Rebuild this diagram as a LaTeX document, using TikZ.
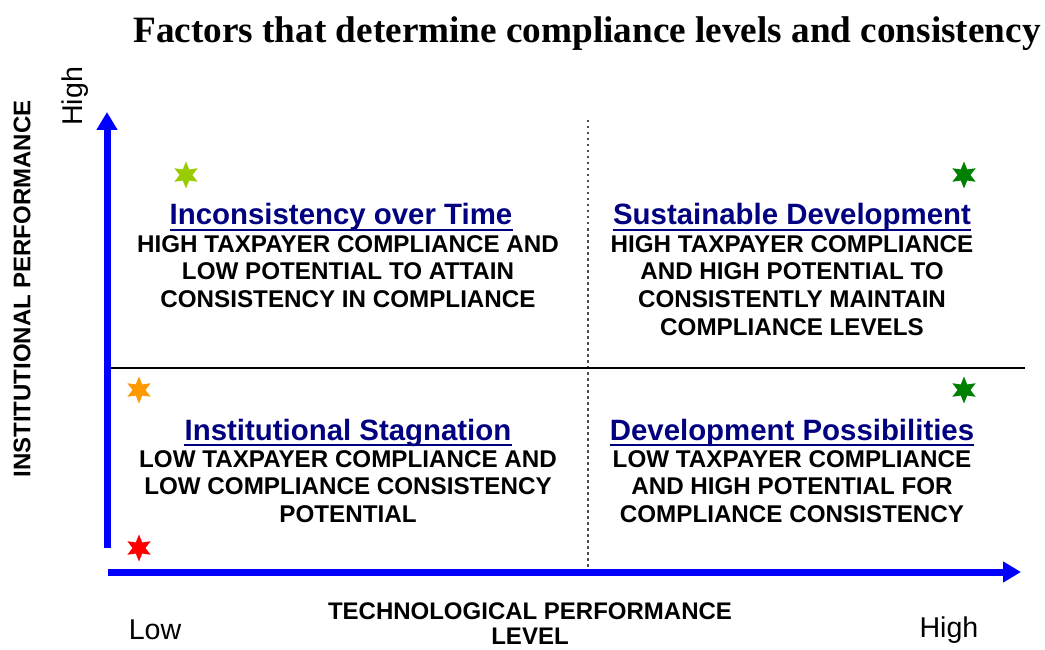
\documentclass[tikz,border=0pt]{standalone}
\usepackage{fontspec}
\setmainfont{Liberation Serif}
\setsansfont{Liberation Sans}
\usetikzlibrary{arrows.meta,shapes.geometric}
\definecolor{axisblue}{RGB}{0,0,255}
\definecolor{headnavy}{RGB}{0,0,128}
\definecolor{limegreen}{RGB}{153,204,0}
\definecolor{darkgreen}{RGB}{0,128,0}
\definecolor{starorange}{RGB}{255,153,0}
\definecolor{starred}{RGB}{255,0,0}
\tikzset{
  axis/.style={line width=7pt, axisblue, -{Triangle[length=18pt,width=20pt]}},
  sixstar/.style={star, star points=6, star point ratio=2.1, minimum size=27pt, inner sep=0pt, draw=none, fill=#1},
  heading/.style={font=\sffamily\bfseries\fontsize{29.4}{29.4}\selectfont, text=headnavy, inner sep=0pt, anchor=base},
  bodytext/.style={font=\sffamily\bfseries\fontsize{24.2}{27.7}\selectfont, align=center, anchor=center, inner sep=0pt},
  axislabel/.style={font=\sffamily\bfseries\fontsize{24}{25}\selectfont, align=center, inner sep=0pt},
  endlabel/.style={font=\sffamily\fontsize{28.6}{28.6}\selectfont, inner sep=0pt},
}
\newcommand{\headline}[1]{\draw[headnavy, line width=2pt] ([yshift=-5pt]#1.base west) -- ([yshift=-5pt]#1.base east);}
\begin{document}
\begin{tikzpicture}[x=1pt, y=-1pt]
\useasboundingbox (0,0) rectangle (1045,650);

% title
\node[font=\rmfamily\bfseries\fontsize{37.2}{37.2}\selectfont, inner sep=0pt, anchor=base] (title) at (587,43) {Factors that determine compliance levels and consistency};

% quadrant dividers
\coordinate (vtop) at (588,120);
\coordinate (vbot) at (588,572);
\coordinate (hleft) at (110,368);
\coordinate (hright) at (1025,368);
\draw[line width=2pt, dash pattern=on 2.5pt off 3.5pt, black!70] (vtop) -- (vbot);
\draw[line width=1.5pt] (hleft) -- (hright);

% axes
\coordinate (yfoot) at (107,548);
\coordinate (ytip) at (107,112);
\coordinate (xfoot) at (108,572);
\coordinate (xtip) at (1021,572);
\draw[axis] (yfoot) -- (ytip);
\draw[axis] (xfoot) -- (xtip);

% stars
\node[sixstar=limegreen] (s1) at (186,175) {};
\node[sixstar=darkgreen] (s2) at (964,175) {};
\node[sixstar=starorange] (s3) at (139,390) {};
\node[sixstar=darkgreen] (s4) at (964,390) {};
\node[sixstar=starred] (s5) at (139,548) {};

% top-left quadrant
\node[heading] (h1) at (341,225) {Inconsistency over Time};
\headline{h1}
\node[bodytext] (b1) at (348,271.5) {HIGH TAXPAYER COMPLIANCE AND\\LOW POTENTIAL TO ATTAIN\\CONSISTENCY IN COMPLIANCE};

% top-right quadrant
\node[heading] (h2) at (792,225) {Sustainable Development};
\headline{h2}
\node[bodytext] (b2) at (792,285.5) {HIGH TAXPAYER COMPLIANCE\\AND HIGH POTENTIAL TO\\CONSISTENTLY MAINTAIN\\COMPLIANCE LEVELS};

% bottom-left quadrant
\node[heading] (h3) at (348,440) {Institutional Stagnation};
\headline{h3}
\node[bodytext] (b3) at (348,486.5) {LOW TAXPAYER COMPLIANCE AND\\LOW COMPLIANCE CONSISTENCY\\POTENTIAL};

% bottom-right quadrant
\node[heading] (h4) at (792,440) {Development Possibilities};
\headline{h4}
\node[bodytext] (b4) at (792,486.5) {LOW TAXPAYER COMPLIANCE\\AND HIGH POTENTIAL FOR\\COMPLIANCE CONSISTENCY};

% axis labels
\node[axislabel, rotate=90] (ylab) at (22,289) {INSTITUTIONAL PERFORMANCE};
\node[endlabel, rotate=90, anchor=base west] (yhigh) at (82,126) {High};
\node[axislabel] (xlab) at (530,624) {TECHNOLOGICAL PERFORMANCE\\LEVEL};
\node[endlabel, anchor=base] (xlow) at (155,639) {Low};
\node[endlabel, anchor=base] (xhigh) at (949,637) {High};
\end{tikzpicture}
\end{document}
